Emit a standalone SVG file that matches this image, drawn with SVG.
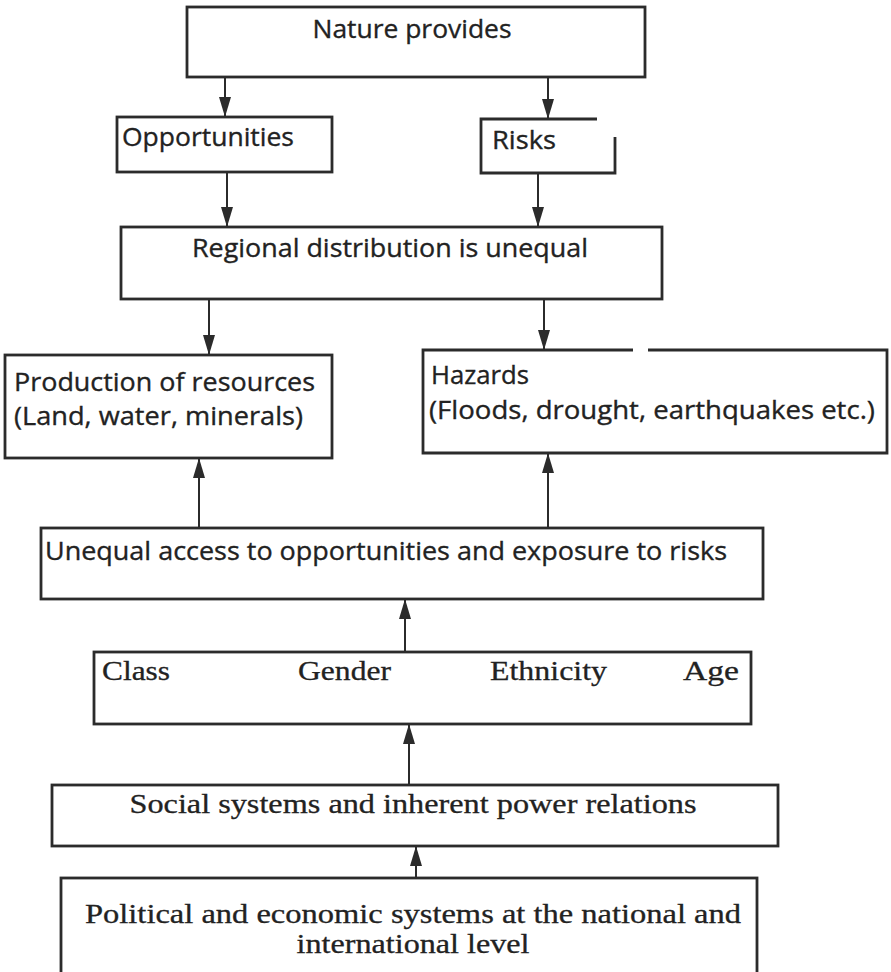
<svg xmlns="http://www.w3.org/2000/svg" width="891" height="972" viewBox="0 0 891 972">
<style>
.box{fill:#fff;stroke:#2b2b2b;stroke-width:2.8}
.edge{fill:none;stroke:#2b2b2b;stroke-width:2.8}
.line{stroke:#2b2b2b;stroke-width:2;fill:none}
.sans{font-family:"Open Sans","Liberation Sans",Arial,sans-serif;font-size:26px;fill:#222;stroke:#222;stroke-width:0.35}
.serif{font-family:"Liberation Serif","Times New Roman",serif;font-size:27px;fill:#222;stroke:#222;stroke-width:0.3}
</style>
<defs>
<marker id="dn" markerUnits="userSpaceOnUse" markerWidth="12" markerHeight="20" refX="6" refY="20" orient="0" viewBox="0 0 12 20">
<path d="M0,0 L12,0 L6,20 Z" fill="#2b2b2b"/>
</marker>
<marker id="up" markerUnits="userSpaceOnUse" markerWidth="12" markerHeight="20" refX="6" refY="0" orient="0" viewBox="0 0 12 20">
<path d="M6,0 L12,20 L0,20 Z" fill="#2b2b2b"/>
</marker>
</defs>
<rect width="891" height="972" fill="#fff"/>

<g id="connectors">
<line class="line" x1="225" y1="77" x2="225" y2="117" marker-end="url(#dn)"/>
<line class="line" x1="548" y1="77" x2="548" y2="119" marker-end="url(#dn)"/>
<line class="line" x1="227" y1="172" x2="227" y2="227" marker-end="url(#dn)"/>
<line class="line" x1="538" y1="171" x2="538" y2="227" marker-end="url(#dn)"/>
<line class="line" x1="209" y1="299" x2="209" y2="355" marker-end="url(#dn)"/>
<line class="line" x1="544" y1="299" x2="544" y2="350" marker-end="url(#dn)"/>
<line class="line" x1="199" y1="528" x2="199" y2="458" marker-end="url(#up)"/>
<line class="line" x1="548" y1="528" x2="548" y2="453" marker-end="url(#up)"/>
<line class="line" x1="405" y1="652" x2="405" y2="599" marker-end="url(#up)"/>
<line class="line" x1="409" y1="785" x2="409" y2="724" marker-end="url(#up)"/>
<line class="line" x1="416" y1="878" x2="416" y2="846" marker-end="url(#up)"/>
</g>

<g id="nature">
<rect class="box" x="187" y="7" width="458" height="70"/>
<text class="sans" x="412" y="38" text-anchor="middle" textLength="199" lengthAdjust="spacingAndGlyphs">Nature provides</text>
</g>

<g id="opportunities">
<rect class="box" x="117" y="117" width="215" height="55"/>
<text class="sans" x="122" y="146" textLength="172" lengthAdjust="spacingAndGlyphs">Opportunities</text>
</g>

<g id="risks">
<rect x="481" y="119" width="134" height="54" fill="#fff"/>
<path class="edge" d="M597,119 H481 V173 H615 V137"/>
<text class="sans" x="492" y="149" textLength="64" lengthAdjust="spacingAndGlyphs">Risks</text>
</g>

<g id="regional">
<rect class="box" x="121" y="227" width="541" height="72"/>
<text class="sans" x="390" y="257" text-anchor="middle" textLength="396" lengthAdjust="spacingAndGlyphs">Regional distribution is unequal</text>
</g>

<g id="production">
<rect class="box" x="5" y="355" width="327" height="103"/>
<text class="sans" x="14" y="391" textLength="301" lengthAdjust="spacingAndGlyphs">Production of resources</text>
<text class="sans" x="14" y="425" textLength="289" lengthAdjust="spacingAndGlyphs">(Land, water, minerals)</text>
</g>

<g id="hazards">
<rect x="423" y="350" width="464" height="103" fill="#fff"/>
<path class="edge" d="M633,350 H423 V453 H887 V350 H648"/>
<text class="sans" x="431" y="384" textLength="98" lengthAdjust="spacingAndGlyphs">Hazards</text>
<text class="sans" x="429" y="419" textLength="446" lengthAdjust="spacingAndGlyphs">(Floods, drought, earthquakes etc.)</text>
</g>

<g id="unequal">
<rect class="box" x="41" y="528" width="722" height="71"/>
<text class="sans" x="45" y="560" textLength="682" lengthAdjust="spacingAndGlyphs">Unequal access to opportunities and exposure to risks</text>
</g>

<g id="factors">
<rect class="box" x="94" y="652" width="657" height="72"/>
<text class="serif" x="102" y="680" textLength="68" lengthAdjust="spacingAndGlyphs">Class</text>
<text class="serif" x="298" y="680" textLength="93" lengthAdjust="spacingAndGlyphs">Gender</text>
<text class="serif" x="490" y="680" textLength="117" lengthAdjust="spacingAndGlyphs">Ethnicity</text>
<text class="serif" x="683" y="680" textLength="56" lengthAdjust="spacingAndGlyphs">Age</text>
</g>

<g id="social">
<rect class="box" x="52" y="785" width="726" height="61"/>
<text class="serif" x="413" y="813" text-anchor="middle" textLength="567" lengthAdjust="spacingAndGlyphs">Social systems and inherent power relations</text>
</g>

<g id="political">
<rect class="box" x="61" y="878" width="696" height="100"/>
<text class="serif" x="413" y="923" text-anchor="middle" textLength="656" lengthAdjust="spacingAndGlyphs">Political and economic systems at the national and</text>
<text class="serif" x="413" y="953" text-anchor="middle" textLength="233" lengthAdjust="spacingAndGlyphs">international level</text>
</g>
</svg>
